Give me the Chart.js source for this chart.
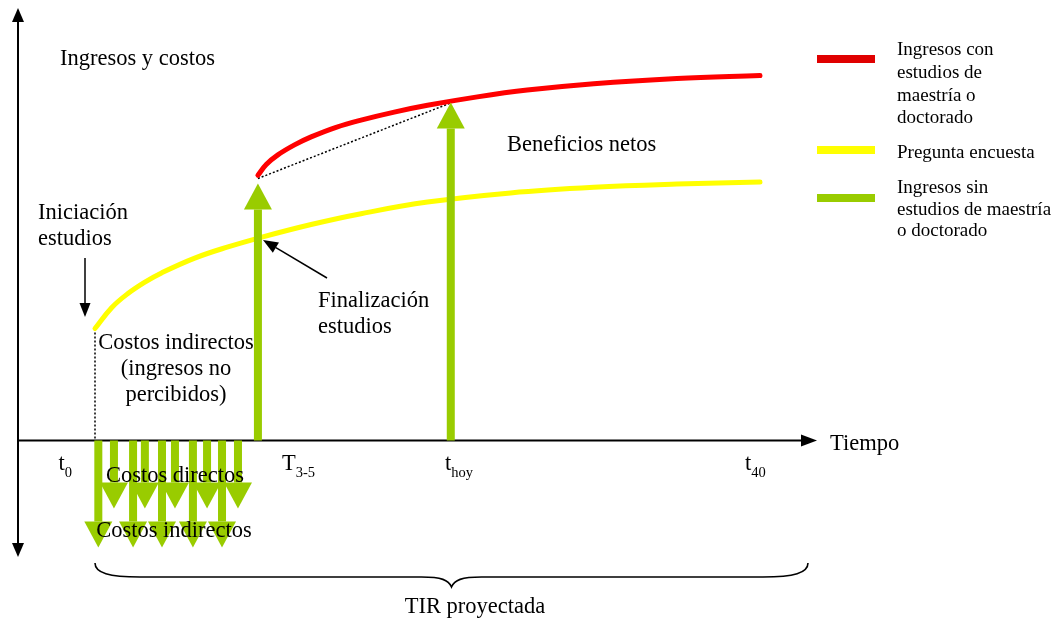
<!DOCTYPE html>
<html>
<head>
<meta charset="utf-8">
<script src="https://cdn.jsdelivr.net/npm/chart.js@4.4.0/dist/chart.umd.min.js"></script>
<style>
body{margin:0;background:#fff;}
#wrap{width:1054px;height:618px;}
</style>
</head>
<body>
<div id="wrap"><canvas id="chart-tir" width="1054" height="618"></canvas></div>
<script>
// tiempo en años (t0 = 0 ... t40 = 40), ingresos en unidades arbitrarias
const yearsEncuesta = [0, 1, 2, 3, 4, 6, 8, 10, 13, 16, 20, 25, 30, 35, 40];
const ingresosEncuesta = [28, 33.2, 36.8, 39.6, 41.9, 45.6, 48.4, 50.8, 54, 56.7, 59.6, 61.9, 63.3, 64.1, 64.6];

const yearsPosgrado = [9.8, 10.3, 11, 12, 13, 14.5, 16, 18, 20, 23, 26, 30, 35, 40];
const ingresosPosgrado = [66.3, 69, 71.4, 73.9, 75.9, 78.3, 80.1, 82.1, 83.8, 85.9, 87.6, 89.2, 90.5, 91.25];

// flechas verdes hacia arriba (T3-5 y thoy)
const beneficioYears = [9.8, 21.4];
const beneficioTop = [64.25, 84.5];

// flechas verdes hacia abajo
const directosYears = [1.14, 3.0, 4.81, 6.74, 8.6];
const directosValor = [-17, -17, -17, -17, -17];
const indirectosYears = [0.2, 2.29, 4.03, 5.89, 7.64];
const indirectosValor = [-26.75, -26.75, -26.75, -26.75, -26.75];

// linea punteada de beneficios netos
const punteadaYears = [9.8, 21.4];
const punteadaValor = [65.5, 84.4];

// etiquetas del eje de tiempo
const tickYears = [-2.2, 11.25, 21.05, 39.1];
const tickMain = ['t', 'T', 't', 't'];
const tickSub = ['0', '3-5', 'hoy', '40'];

const legendLabels = [
    ['Ingresos con', 'estudios de', 'maestría o', 'doctorado'],
    ['Pregunta encuesta'],
    ['Ingresos sin', 'estudios de maestría', 'o doctorado']
];
const legendColors = ['#e00000', '#ffff00', '#99cc00'];

const RED = '#ff0000', YELLOW = '#ffff00', GREEN = '#99cc00';
const SERIF = '"Liberation Serif", "Times New Roman", serif';
const FS = 22.5;

function pts(xs, ys){ return xs.map((x, i) => ({x: x, y: ys[i]})); }

function tri(ctx, x1, y1, x2, y2, x3, y3, color){
    ctx.fillStyle = color;
    ctx.beginPath();
    ctx.moveTo(x1, y1); ctx.lineTo(x2, y2); ctx.lineTo(x3, y3);
    ctx.closePath();
    ctx.fill();
}

// flecha vertical gruesa: base y0, punta y1 (pixeles)
function fatArrow(ctx, x, y0, y1, color){
    const shaft = 8, headW = 28, headL = 26;
    const dir = y1 < y0 ? -1 : 1;
    const hb = y1 - dir * headL;
    ctx.fillStyle = color;
    ctx.fillRect(x - shaft / 2, Math.min(y0, hb), shaft, Math.abs(hb - y0));
    tri(ctx, x, y1, x - headW / 2, hb, x + headW / 2, hb, color);
}

function thinArrow(ctx, x0, y0, x1, y1, headL, headW){
    ctx.strokeStyle = '#000';
    ctx.lineWidth = 1.5;
    const a = Math.atan2(y1 - y0, x1 - x0);
    const bx = x1 - Math.cos(a) * headL, by = y1 - Math.sin(a) * headL;
    ctx.beginPath(); ctx.moveTo(x0, y0); ctx.lineTo(bx, by); ctx.stroke();
    const px = -Math.sin(a) * headW / 2, py = Math.cos(a) * headW / 2;
    tri(ctx, x1, y1, bx + px, by + py, bx - px, by - py, '#000');
}

function txt(ctx, s, x, y, size, align){
    ctx.font = size + 'px ' + SERIF;
    ctx.fillStyle = '#000';
    ctx.textAlign = align || 'left';
    ctx.textBaseline = 'alphabetic';
    ctx.fillText(s, x, y);
}

const diagramPlugin = {
    id: 'diagrama',
    beforeDatasetsDraw(chart){
        const ctx = chart.ctx, xs = chart.scales.x, ys = chart.scales.y;
        const y0 = ys.getPixelForValue(0);
        ctx.save();
        ctx.strokeStyle = '#000';
        ctx.lineWidth = 2;
        // eje vertical
        ctx.beginPath(); ctx.moveTo(18, 20); ctx.lineTo(18, 545); ctx.stroke();
        tri(ctx, 18, 8, 12, 22, 24, 22, '#000');
        tri(ctx, 18, 557, 12, 543, 24, 543, '#000');
        // eje de tiempo
        ctx.beginPath(); ctx.moveTo(18, y0); ctx.lineTo(803, y0); ctx.stroke();
        tri(ctx, 817, y0, 801, y0 - 6, 801, y0 + 6, '#000');
        // linea punteada vertical en t0
        ctx.lineWidth = 1.5;
        ctx.setLineDash([2, 2]);
        ctx.beginPath();
        ctx.moveTo(xs.getPixelForValue(0), ys.getPixelForValue(ingresosEncuesta[0]));
        ctx.lineTo(xs.getPixelForValue(0), y0);
        ctx.stroke();
        ctx.restore();
    },
    afterDatasetsDraw(chart){
        const ctx = chart.ctx, xs = chart.scales.x, ys = chart.scales.y;
        const y0 = ys.getPixelForValue(0);
        ctx.save();
        // flechas de costos
        indirectosYears.forEach((t, i) => fatArrow(ctx, xs.getPixelForValue(t), y0, ys.getPixelForValue(indirectosValor[i]), GREEN));
        directosYears.forEach((t, i) => fatArrow(ctx, xs.getPixelForValue(t), y0, ys.getPixelForValue(directosValor[i]), GREEN));
        // flechas de ingresos
        beneficioYears.forEach((t, i) => fatArrow(ctx, xs.getPixelForValue(t), y0, ys.getPixelForValue(beneficioTop[i]), GREEN));

        // flechas de anotacion
        thinArrow(ctx, 85, 258, 85, 317, 14, 11);
        thinArrow(ctx, 327, 278, 263, 240, 15, 12);

        // textos
        txt(ctx, 'Ingresos y costos', 60, 65, FS);
        txt(ctx, 'Iniciación', 38, 219, FS);
        txt(ctx, 'estudios', 38, 245, FS);
        txt(ctx, 'Costos indirectos', 176, 349, FS, 'center');
        txt(ctx, '(ingresos no', 176, 375, FS, 'center');
        txt(ctx, 'percibidos)', 176, 401, FS, 'center');
        txt(ctx, 'Finalización', 318, 307, FS);
        txt(ctx, 'estudios', 318, 333, FS);
        txt(ctx, 'Beneficios netos', 507, 151, FS);
        txt(ctx, 'Tiempo', 830, 450, FS);
        txt(ctx, 'Costos directos', 175, 482, FS, 'center');
        txt(ctx, 'Costos indirectos', 174, 537, FS, 'center');
        txt(ctx, 'TIR proyectada', 475, 613, FS, 'center');

        // etiquetas de tiempo con subindice
        tickYears.forEach((t, i) => {
            const x = xs.getPixelForValue(t);
            txt(ctx, tickMain[i], x, 470, FS);
            ctx.font = FS + 'px ' + SERIF;
            const w = ctx.measureText(tickMain[i]).width;
            txt(ctx, tickSub[i], x + w, 477, 14.5);
        });

        // llave de TIR proyectada
        const bl = xs.getPixelForValue(0), br = 808, bm = (bl + br) / 2;
        ctx.strokeStyle = '#000';
        ctx.lineWidth = 1.6;
        ctx.beginPath();
        ctx.moveTo(bl, 563);
        ctx.bezierCurveTo(bl, 573, bl + 14, 577, bl + 45, 577);
        ctx.lineTo(bm - 30, 577);
        ctx.bezierCurveTo(bm - 10, 577, bm - 3, 580, bm, 587);
        ctx.bezierCurveTo(bm + 3, 580, bm + 10, 577, bm + 30, 577);
        ctx.lineTo(br - 45, 577);
        ctx.bezierCurveTo(br - 14, 577, br, 573, br, 563);
        ctx.stroke();

        // leyenda
        const lineY = [59, 150, 198];
        const textY = [55, 158, 193];
        const step = [22.8, 22.8, 21.7];
        legendLabels.forEach((lines, i) => {
            ctx.fillStyle = legendColors[i];
            ctx.fillRect(817, lineY[i] - 4, 58, 8);
            lines.forEach((s, j) => txt(ctx, s, 897, textY[i] + j * step[i], 19));
        });
        ctx.restore();
    }
};

const pxPerYear = 16.625, pxPerUnit = 4;
const ctx = document.getElementById('chart-tir').getContext('2d');
const chartTir = new Chart(ctx, {
    type: 'scatter',
    data: {
        datasets: [{
            label: 'Pregunta encuesta',
            data: pts(yearsEncuesta, ingresosEncuesta),
            showLine: true,
            borderColor: YELLOW,
            borderWidth: 5,
            borderCapStyle: 'round',
            tension: 0.4,
            pointRadius: 0
        }, {
            label: 'Ingresos con estudios de maestría o doctorado',
            data: pts(yearsPosgrado, ingresosPosgrado),
            showLine: true,
            borderColor: RED,
            borderWidth: 5,
            borderCapStyle: 'round',
            tension: 0.4,
            pointRadius: 0
        }, {
            label: 'Beneficios netos',
            data: pts(punteadaYears, punteadaValor),
            showLine: true,
            borderColor: '#000',
            borderWidth: 1.5,
            borderDash: [2, 2],
            pointRadius: 0
        }]
    },
    options: {
        responsive: false,
        animation: false,
        layout: { padding: 0 },
        plugins: { legend: { display: false }, tooltip: { enabled: false } },
        scales: {
            x: { type: 'linear', display: false, min: -95 / pxPerYear, max: 959 / pxPerYear },
            y: { type: 'linear', display: false, min: -177.5 / pxPerUnit, max: 440.5 / pxPerUnit }
        }
    },
    plugins: [diagramPlugin]
});
</script>
</body>
</html>
